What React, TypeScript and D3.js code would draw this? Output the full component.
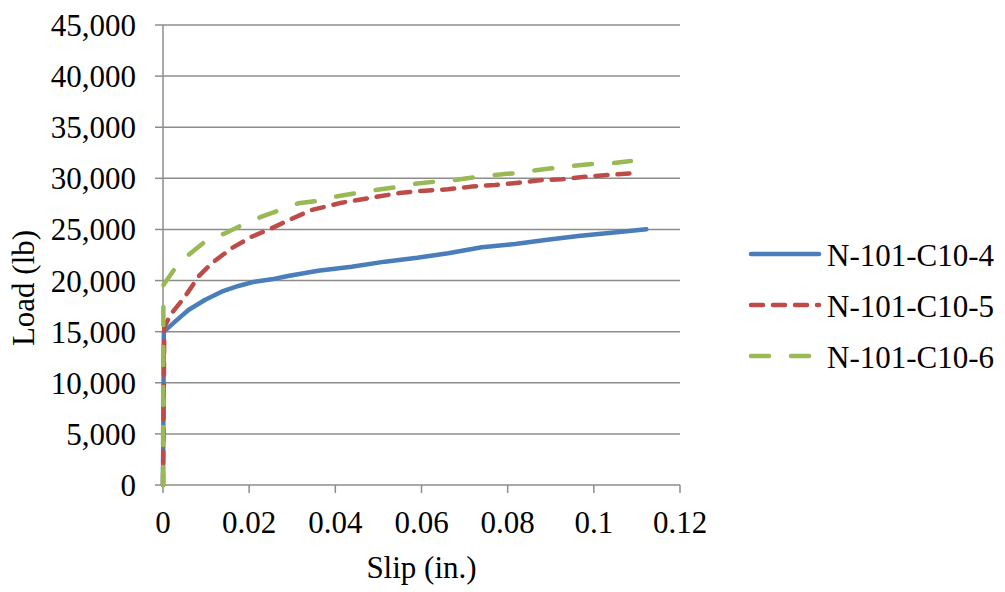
import React from "react";
import * as d3 from "d3";

const seriesNames = ["N-101-C10-4", "N-101-C10-5", "N-101-C10-6"];

const blueSlip = [0, 0.0002, 0.0028, 0.0059, 0.0097, 0.0136, 0.0175, 0.0213, 0.0252, 0.029, 0.036, 0.0438, 0.0515, 0.059, 0.0662, 0.074, 0.0817, 0.0892, 0.0964, 0.1041, 0.1122];
const blueLoad = [0, 15000, 15980, 17120, 18100, 18910, 19470, 19890, 20120, 20450, 20960, 21360, 21850, 22230, 22670, 23250, 23580, 24000, 24360, 24680, 25010];

const redSlip = [0, 0.0003, 0.002, 0.0051, 0.0082, 0.0113, 0.0159, 0.0206, 0.0252, 0.029, 0.0345, 0.0415, 0.0476, 0.0554, 0.0608, 0.0662, 0.0716, 0.0771, 0.0825, 0.088, 0.0925, 0.0979, 0.1033, 0.1088, 0.1103];
const redLoad = [0, 15490, 16800, 18420, 20380, 21690, 23160, 24290, 25110, 25880, 26900, 27620, 28050, 28600, 28790, 28930, 29190, 29350, 29570, 29840, 29900, 30160, 30330, 30490, 30520];

const greenSlip = [0, 0.0001, 0.0028, 0.0059, 0.0097, 0.0144, 0.0179, 0.0229, 0.0268, 0.0314, 0.0357, 0.0399, 0.0446, 0.0492, 0.0538, 0.059, 0.0631, 0.0677, 0.0724, 0.077, 0.0813, 0.0859, 0.0892, 0.0948, 0.0995, 0.1041, 0.1086];
const greenLoad = [0, 19570, 21200, 22500, 23800, 24620, 25340, 26250, 26840, 27560, 27780, 28200, 28540, 28860, 29120, 29500, 29670, 29840, 30100, 30330, 30490, 30750, 30930, 31210, 31400, 31470, 31700];

const xTicks = [0, 0.02, 0.04, 0.06, 0.08, 0.1, 0.12];
const xTickLabels = ["0", "0.02", "0.04", "0.06", "0.08", "0.1", "0.12"];
const yTicks = [0, 5000, 10000, 15000, 20000, 25000, 30000, 35000, 40000, 45000];

const xTitle = "Slip (in.)";
const yTitle = "Load (lb)";

const colors = ["#4A7EBB", "#BE4B48", "#98B954"];
const dashes = ["none", "12 10", "18 22"];

export default function App() {
  const x = d3.scaleLinear().domain([0, 0.12]).range([163, 680]);
  const y = d3.scaleLinear().domain([0, 45000]).range([485, 25]);
  const font = "'Liberation Serif', 'Times New Roman', serif";
  const fs = 31;
  const grid = "#8c8c8c";

  const series = [
    blueSlip.map((s, i) => [s, blueLoad[i]] as [number, number]),
    redSlip.map((s, i) => [s, redLoad[i]] as [number, number]),
    greenSlip.map((s, i) => [s, greenLoad[i]] as [number, number]),
  ];
  const line = d3
    .line<[number, number]>()
    .x((d) => x(d[0]))
    .y((d) => y(d[1]));

  const legendY = [254, 305, 356];

  return (
    <svg
      width={1005}
      height={592}
      style={{ position: "absolute", left: 0, top: 0, background: "#fff" }}
      fontFamily={font}
    >
      <rect width={1005} height={592} fill="#fff" />
      {yTicks.map((t) => (
        <g key={"y" + t}>
          {t !== 0 && (
            <line x1={x(0)} x2={x(0.12)} y1={y(t)} y2={y(t)} stroke={grid} strokeWidth={1.5} />
          )}
          <line x1={x(0) - 8} x2={x(0)} y1={y(t)} y2={y(t)} stroke={grid} strokeWidth={1.5} />
          <text x={136} y={y(t) + 11} textAnchor="end" fontSize={fs} fill="#000">
            {d3.format(",")(t)}
          </text>
        </g>
      ))}
      {xTicks.map((t, i) => (
        <g key={"x" + t}>
          <line x1={x(t)} x2={x(t)} y1={y(0)} y2={y(0) + 8} stroke={grid} strokeWidth={1.5} />
          <text x={x(t)} y={533} textAnchor="middle" fontSize={fs} fill="#000">
            {xTickLabels[i]}
          </text>
        </g>
      ))}
      <line x1={x(0)} x2={x(0)} y1={y(45000)} y2={y(0)} stroke={grid} strokeWidth={1.5} />
      <line x1={x(0)} x2={x(0.12)} y1={y(0)} y2={y(0)} stroke={grid} strokeWidth={1.5} />

      {series.map((d, i) => (
        <path
          key={"s" + i}
          d={line(d) || ""}
          fill="none"
          stroke={colors[i]}
          strokeWidth={4.5}
          strokeDasharray={dashes[i]}
          strokeLinecap="round"
          strokeLinejoin="round"
        />
      ))}

      <text x={421.5} y={578} textAnchor="middle" fontSize={fs} fill="#000">
        {xTitle}
      </text>
      <text
        transform={`translate(34, 288) rotate(-90)`}
        textAnchor="middle"
        fontSize={fs}
        fill="#000"
      >
        {yTitle}
      </text>

      {seriesNames.map((n, i) => (
        <g key={"l" + i}>
          <line
            x1={751}
            x2={819}
            y1={legendY[i]}
            y2={legendY[i]}
            stroke={colors[i]}
            strokeWidth={4.5}
            strokeDasharray={dashes[i]}
            strokeLinecap="round"
          />
          <text x={827} y={legendY[i] + 12} fontSize={fs} fill="#000">
            {n}
          </text>
        </g>
      ))}
    </svg>
  );
}
